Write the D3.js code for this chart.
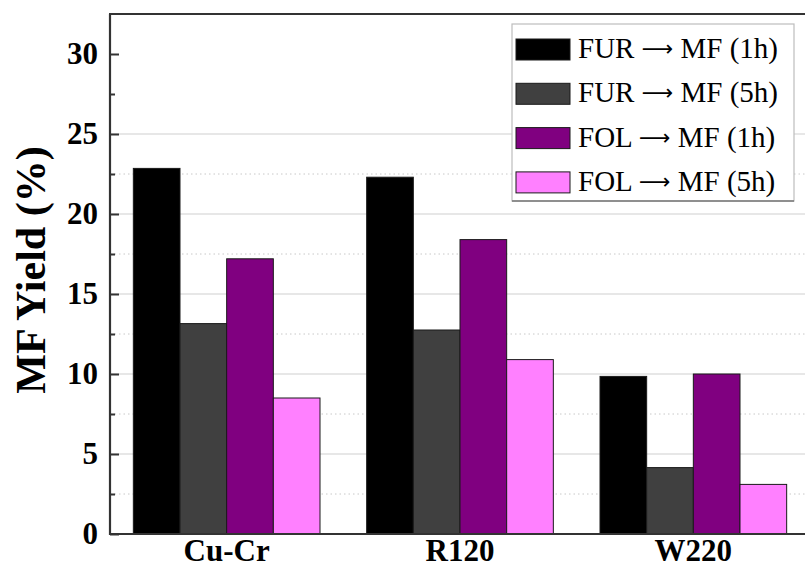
<!DOCTYPE html>
<html>
<head>
<meta charset="utf-8">
<script src="https://cdn.jsdelivr.net/npm/d3@7"></script>
<style>
  html, body { margin: 0; padding: 0; background: #fff; }
  svg { display: block; }
</style>
</head>
<body>
<svg id="chart" width="805" height="569"></svg>
<script>
// Catalysts on the x axis
const catalysts = ["Cu-Cr", "R120", "W220"];
// Reaction series (legend order): reactant, product, time
const seriesFrom = ["FUR", "FUR", "FOL", "FOL"];
const seriesTo = ["MF (1h)", "MF (5h)", "MF (1h)", "MF (5h)"];
const seriesColors = ["#000000", "#404040", "#800080", "#ff80ff"];
// MF yield (%) per series, one value per catalyst
const furMF1h = [22.85, 22.3, 9.85];
const furMF5h = [13.15, 12.75, 4.15];
const folMF1h = [17.2, 18.4, 10.0];
const folMF5h = [8.5, 10.9, 3.1];
const seriesValues = [furMF1h, furMF5h, folMF1h, folMF5h];
// Y axis ticks
const majorTicks = [0, 5, 10, 15, 20, 25, 30];
const minorTicks = [2.5, 7.5, 12.5, 17.5, 22.5, 27.5];
const gridMajor = [5, 10, 15, 20, 25];
const gridMinor = [2.5, 7.5, 12.5, 17.5, 22.5];

const svg = d3.select("#chart");
const plot = { left: 110, right: 810, top: 14, bottom: 534 };
const serif = "'Liberation Serif', 'Times New Roman', serif";

const x = d3.scaleBand().domain(catalysts).range([plot.left, plot.right]).paddingInner(0.2).paddingOuter(0.1);
const xs = d3.scaleBand().domain(d3.range(seriesFrom.length)).range([0, x.bandwidth()]);
const y = d3.scaleLinear().domain([0, 32.5]).range([plot.bottom, plot.top]);

// Grid lines
svg.append("g").selectAll("line").data(gridMajor).join("line")
  .attr("x1", plot.left).attr("x2", plot.right)
  .attr("y1", d => y(d)).attr("y2", d => y(d))
  .attr("stroke", "#cfcfcf").attr("stroke-width", 1.2);
svg.append("g").selectAll("line").data(gridMinor).join("line")
  .attr("x1", plot.left).attr("x2", plot.right)
  .attr("y1", d => y(d)).attr("y2", d => y(d))
  .attr("stroke", "#c8c8c8").attr("stroke-width", 1).attr("stroke-dasharray", "1.5,3");

// Bars
const groups = svg.append("g").selectAll("g").data(catalysts).join("g")
  .attr("transform", d => `translate(${x(d)},0)`);
groups.selectAll("rect")
  .data((c, ci) => seriesValues.map((vals, si) => ({ si, v: vals[ci] })))
  .join("rect")
  .attr("x", d => xs(d.si))
  .attr("width", xs.bandwidth())
  .attr("y", d => y(d.v))
  .attr("height", d => y(0) - y(d.v))
  .attr("fill", d => seriesColors[d.si])
  .attr("stroke", "#1a1a1a").attr("stroke-width", 1);

// Axes
const yAxis = d3.axisLeft(y).tickValues(majorTicks).tickSize(-9).tickPadding(12).tickFormat(d3.format("d"));
const gy = svg.append("g").attr("transform", `translate(${plot.left},0)`).call(yAxis);
gy.select(".domain").remove();
gy.selectAll(".tick line").attr("stroke", "#333").attr("stroke-width", 2);
gy.selectAll(".tick text").attr("font-family", serif).attr("font-weight", "bold")
  .attr("font-size", 31).attr("fill", "#000").attr("x", -12);
const yMinor = d3.axisLeft(y).tickValues(minorTicks).tickSize(-5).tickFormat("");
const gym = svg.append("g").attr("transform", `translate(${plot.left},0)`).call(yMinor);
gym.select(".domain").remove();
gym.selectAll(".tick line").attr("stroke", "#333").attr("stroke-width", 2);

const xAxis = d3.axisBottom(x).tickSize(0).tickPadding(0);
const gx = svg.append("g").attr("transform", `translate(0,${plot.bottom})`).call(xAxis);
gx.select(".domain").remove();
gx.selectAll(".tick text").attr("font-family", serif).attr("font-weight", "bold")
  .attr("font-size", 31).attr("fill", "#000").attr("y", 27).attr("dy", 0);

// Frame lines
svg.append("line").attr("x1", plot.left).attr("x2", plot.left).attr("y1", plot.top).attr("y2", plot.bottom + 1)
  .attr("stroke", "#333").attr("stroke-width", 2.2);
svg.append("line").attr("x1", plot.left - 1).attr("x2", plot.right).attr("y1", plot.top).attr("y2", plot.top)
  .attr("stroke", "#333").attr("stroke-width", 2.2);
svg.append("line").attr("x1", plot.left - 1).attr("x2", plot.right).attr("y1", plot.bottom).attr("y2", plot.bottom)
  .attr("stroke", "#333").attr("stroke-width", 2.2);

// Y title
svg.append("text")
  .attr("transform", `translate(45,270) rotate(-90)`)
  .attr("text-anchor", "middle")
  .attr("font-family", serif).attr("font-weight", "bold").attr("font-size", 42)
  .text("MF Yield (%)");

// Legend
const lg = svg.append("g");
lg.append("rect").attr("x", 512).attr("y", 24).attr("width", 282).attr("height", 177)
  .attr("fill", "#fff").attr("stroke", "#bdbdbd").attr("stroke-width", 1.2);
lg.append("line").attr("x1", 512).attr("x2", 794).attr("y1", 201).attr("y2", 201)
  .attr("stroke", "#777").attr("stroke-width", 1.5);
const rows = lg.selectAll("g.row").data(seriesFrom).join("g").attr("class", "row")
  .attr("transform", (d, i) => `translate(0,${39 + i * 44.3})`);
rows.append("rect").attr("x", 516).attr("y", 0).attr("width", 54).attr("height", 21)
  .attr("fill", (d, i) => seriesColors[i]).attr("stroke", "#1a1a1a").attr("stroke-width", 1);
const lt = rows.append("text").attr("x", 578).attr("y", 19)
  .attr("font-family", serif).attr("font-size", 29).attr("fill", "#000");
lt.append("tspan").text(d => d + " ");
lt.append("tspan").attr("font-family", "'DejaVu Sans', sans-serif").attr("font-size", 22).attr("dy", -2).text("\u27F6");
lt.append("tspan").attr("dy", 2).text((d, i) => " " + seriesTo[i]);
</script>
</body>
</html>
